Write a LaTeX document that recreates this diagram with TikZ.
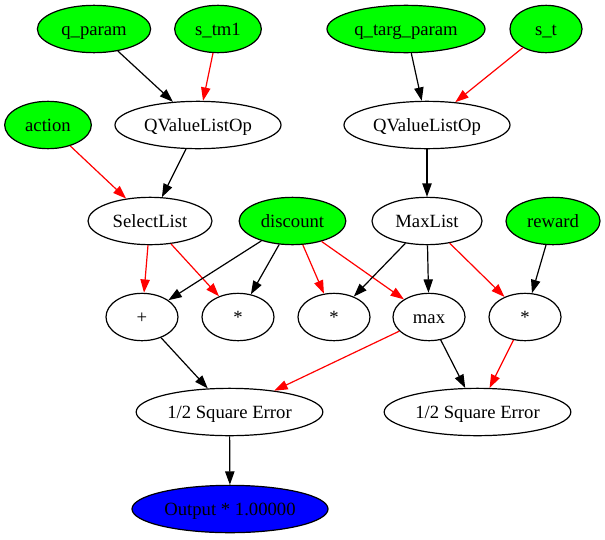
\documentclass[tikz,border=0pt]{standalone}
\usepackage{fontspec}
\setmainfont{Liberation Serif}
\usetikzlibrary{shapes.geometric,arrows.meta}
\definecolor{gvgreen}{HTML}{00FF00}
\definecolor{gvblue}{HTML}{0000FF}
\definecolor{gvred}{HTML}{FF0000}
\tikzset{
  gvnode/.style={ellipse,draw=black,line width=0.9pt,inner sep=0pt,minimum height=35.5pt,text height=12pt,text depth=3pt,font=\fontsize{14}{16}\selectfont},
  innode/.style={gvnode,fill=gvgreen},
  opnode/.style={gvnode,fill=white},
  outnode/.style={gvnode,fill=gvblue},
  blk/.style={line width=0.9pt,draw=black,-{Triangle[length=10pt,width=7pt]}},
  rdl/.style={line width=0.9pt,draw=gvred,-{Triangle[length=10pt,width=7pt]},color=gvred},
}
\begin{document}
\begin{tikzpicture}[x=0.75pt,y=-0.75pt]
\useasboundingbox (0,0) rectangle (605,539);
\node[innode,minimum width=85pt] (qparam) at (94,29) {q\_param};
\node[innode,minimum width=65pt] (stm1) at (218,29) {s\_tm1};
\node[innode,minimum width=118.5pt] (qtarg) at (406,29) {q\_targ\_param};
\node[innode,minimum width=54pt] (st) at (546,29) {s\_t};
\node[innode,minimum width=65pt] (action) at (48,125) {action};
\node[opnode,minimum width=124.5pt] (qvl) at (198,125) {QValueListOp};
\node[opnode,minimum width=124.5pt] (qvr) at (427,125) {QValueListOp};
\node[opnode,minimum width=93pt] (sel) at (150,221) {SelectList};
\node[innode,minimum width=80pt] (disc) at (292.5,221) {discount};
\node[opnode,minimum width=82.5pt] (maxl) at (427,221) {MaxList};
\node[innode,minimum width=70.5pt] (rew) at (553,221) {reward};
\node[opnode,minimum width=54pt] (plus) at (142,317) {+};
\node[opnode,minimum width=54pt] (m1) at (238,317) {*};
\node[opnode,minimum width=54pt] (m2) at (334,317) {*};
\node[opnode,minimum width=54pt] (mx) at (429,317) {max};
\node[opnode,minimum width=54pt] (m3) at (525,317) {*};
\node[opnode,minimum width=140pt] (sql) at (229.5,412) {1/2 Square Error};
\node[opnode,minimum width=140pt] (sqr) at (477.5,412) {1/2 Square Error};
\node[outnode,minimum width=147pt] (out) at (230,509) {Output * 1.00000};
\draw[blk] (qparam) -- (qvl);
\draw[rdl] (stm1) -- (qvl);
\draw[blk] (qtarg) -- (qvr);
\draw[rdl] (st) -- (qvr);
\draw[rdl] (action) -- (sel);
\draw[blk] (qvl) -- (sel);
\draw[blk] (qvr) -- (maxl);
\draw[rdl] (sel) -- (plus);
\draw[rdl] (sel) -- (m1);
\draw[blk] (disc) -- (plus);
\draw[blk] (disc) -- (m1);
\draw[rdl] (disc) -- (m2);
\draw[rdl] (disc) -- (mx);
\draw[blk] (maxl) -- (m2);
\draw[blk] (maxl) -- (mx);
\draw[rdl] (maxl) -- (m3);
\draw[blk] (rew) -- (m3);
\draw[blk] (plus) -- (sql);
\draw[rdl] (mx) -- (sql);
\draw[blk] (mx) -- (sqr);
\draw[rdl] (m3) -- (sqr);
\draw[blk] (sql) -- (out);
\end{tikzpicture}
\end{document}
